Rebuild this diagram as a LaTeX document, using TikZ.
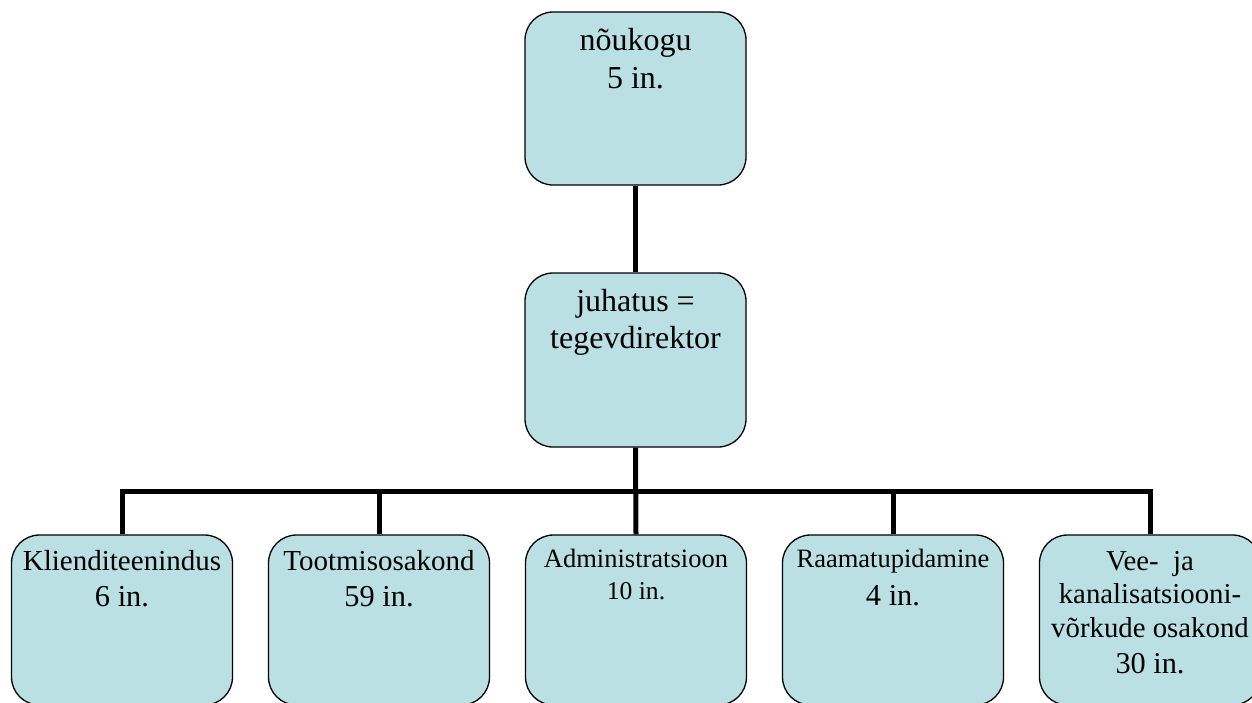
\documentclass[tikz,border=0pt]{standalone}
\usepackage{fontspec}
\setmainfont{Liberation Serif}
\usetikzlibrary{backgrounds}
\definecolor{boxfill}{RGB}{186,224,228}
\tikzset{
  orgbox/.style={draw=black, line width=1.3pt, fill=boxfill, rounded corners=28pt,
    minimum width=221pt, inner sep=0pt},
  conn/.style={line width=5pt},
  lbl/.style={anchor=base, inner sep=0pt}
}
\begin{document}
\begin{tikzpicture}[x=1pt,y=-1pt]
\useasboundingbox (0,0) rectangle (1252,702);
\clip (0,0) rectangle (1252,702);
% boxes
\node[orgbox, minimum height=173pt] (top) at (635.5,98.5) {};
\node[orgbox, minimum height=174pt] (mid) at (635.5,360) {};
\node[orgbox, minimum height=170pt] (b1) at (122,620) {};
\node[orgbox, minimum height=170pt] (b2) at (379,620) {};
\node[orgbox, minimum height=170pt] (b3) at (636,620) {};
\node[orgbox, minimum height=170pt] (b4) at (893,620) {};
\node[orgbox, minimum height=170pt] (b5) at (1150,620) {};
% connectors
\coordinate (bar) at (636,491);
\begin{scope}[on background layer]
\draw[conn] (top.south) -- (mid.north);
\draw[conn] (mid.south) -- (b3.north);
\draw[conn] (b1.north) |- (bar) -| (b5.north);
\draw[conn] (b2.north) -- (b2.north |- bar);
\draw[conn] (b4.north) -- (b4.north |- bar);
\end{scope}
% labels
\node[lbl] (t0) at (635.5,50.7) {\fontsize{32}{38}\selectfont\begin{tabular}[t]{@{}c@{}}nõukogu\\5 in.\end{tabular}};
\node[lbl] (t1) at (635.5,311.7) {\fontsize{32}{36.6}\selectfont\begin{tabular}[t]{@{}c@{}}juhatus =\\tegevdirektor\end{tabular}};
\node[lbl] (t2) at (122,570.7) {\fontsize{29}{36}\selectfont\begin{tabular}[t]{@{}c@{}}Klienditeenindus\\\fontsize{30.4}{36}\selectfont 6 in.\end{tabular}};
\node[lbl] (t3) at (379,570.7) {\fontsize{29}{36}\selectfont\begin{tabular}[t]{@{}c@{}}Tootmisosakond\\\fontsize{30.4}{36}\selectfont 59 in.\end{tabular}};
\node[lbl] (t4) at (636,567.7) {\fontsize{26.5}{31.6}\selectfont\begin{tabular}[t]{@{}c@{}}Administratsioon\\\fontsize{25.6}{31.6}\selectfont 10 in.\end{tabular}};
\node[lbl] (t5) at (893,567.7) {\fontsize{26.5}{37.3}\selectfont\begin{tabular}[t]{@{}c@{}}Raamatupidamine\\\fontsize{30.4}{37.3}\selectfont 4 in.\end{tabular}};
\node[lbl] (t6) at (1150,570.7) {\fontsize{28.8}{33}\selectfont\begin{tabular}[t]{@{}c@{}}Vee-\ \ ja\\kanalisatsiooni-\\[0.7pt]võrkude osakond\\[3.3pt]\fontsize{30.3}{33}\selectfont 30 in.\end{tabular}};
\end{tikzpicture}
\end{document}
